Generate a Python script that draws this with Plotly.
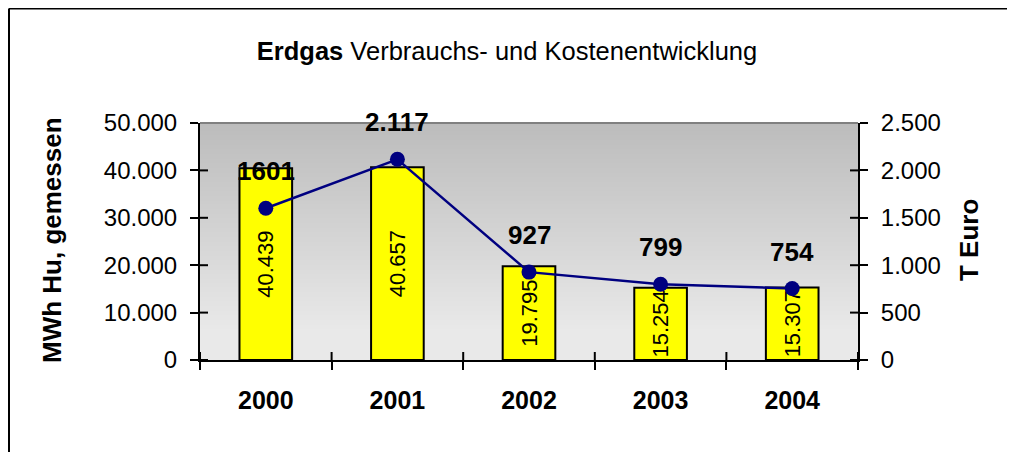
import base64, struct, zlib
import plotly.graph_objects as go

years = ["2000", "2001", "2002", "2003", "2004"]
consumption_mwh = [40439, 40657, 19795, 15254, 15307]
cost_teuro = [1601, 2117, 927, 799, 754]
cost_labels = ["1601", "2.117", "927", "799", "754"]
y1_ticks = [0, 10000, 20000, 30000, 40000, 50000]
y2_ticks = [0, 500, 1000, 1500, 2000, 2500]

# --- gradient background as a tiny grayscale PNG ---
def _chunk(tag, data):
    return struct.pack(">I", len(data)) + tag + data + struct.pack(">I", zlib.crc32(tag + data) & 0xffffffff)

def gradient_png(h=240, top=188, bottom=233, flat_from=0.88):
    col = []
    for i in range(h):
        t = min(1.0, (i / (h - 1)) / flat_from)
        col.append(int(round(top + (bottom - top) * t)))
    raw = b"".join(b"\x00" + bytes([v]) for v in col)
    png = (b"\x89PNG\r\n\x1a\n" + _chunk(b"IHDR", struct.pack(">IIBBBBB", 1, h, 8, 0, 0, 0, 0))
           + _chunk(b"IDAT", zlib.compress(raw)) + _chunk(b"IEND", b""))
    return "data:image/png;base64," + base64.b64encode(png).decode()

FONT = "Liberation Sans, Arial, sans-serif"
# figure-pixel geometry (page has an 8px body offset)
L, R, T, B = 192, 850, 115, 352
W, H = 1007, 444
PW, PH = R - L, B - T

fig = go.Figure()
fig.add_trace(go.Bar(
    x=years, y=consumption_mwh, width=0.4,
    marker=dict(color="#ffff00", line=dict(color="black", width=2)),
    texttemplate="%{y:,.0f}", textposition="inside", insidetextanchor="middle",
    textangle=-90, constraintext="none",
    textfont=dict(family=FONT, size=22, color="black"),
    hoverinfo="skip", showlegend=False,
))
fig.add_trace(go.Scatter(
    x=years, y=cost_teuro, yaxis="y2", mode="lines+markers",
    line=dict(color="#000080", width=2.5),
    marker=dict(color="#000080", size=15),
    hoverinfo="skip", showlegend=False,
))

for i, (v, lab) in enumerate(zip(cost_teuro, cost_labels)):
    fig.add_annotation(x=i, xref="x", y=v, yref="y2", text="<b>%s</b>" % lab, showarrow=False,
                       xanchor="center", yanchor="middle",
                       yshift=37, font=dict(family=FONT, size=26, color="black"))

shapes = []
# inward halves of tick marks
for t in y1_ticks:
    shapes.append(dict(type="line", xref="paper", yref="y", x0=0, x1=8 / PW, y0=t, y1=t,
                       line=dict(color="black", width=2)))
for t in y2_ticks:
    shapes.append(dict(type="line", xref="paper", yref="y2", x0=1 - 8 / PW, x1=1, y0=t, y1=t,
                       line=dict(color="black", width=2)))
for i in range(len(years) + 1):
    shapes.append(dict(type="line", xref="x", yref="paper", x0=i - 0.5, x1=i - 0.5, y0=0, y1=8 / PH,
                       line=dict(color="black", width=2)))
# gray top border of plot area
shapes.append(dict(type="line", xref="paper", yref="paper", x0=0, x1=1, y0=1, y1=1,
                   line=dict(color="#808080", width=2)))
# outer chart border: top and left edges only (others run off the window)
top_y = (B - 0.5) / PH
left_x = (1 - L) / PW
shapes.append(dict(type="line", xref="paper", yref="paper", x0=left_x, x1=(W + 20 - L) / PW,
                   y0=top_y, y1=top_y, line=dict(color="black", width=2)))
shapes.append(dict(type="line", xref="paper", yref="paper", x0=left_x, x1=left_x,
                   y0=top_y, y1=(B - H - 20) / PH, line=dict(color="black", width=2)))

fig.update_layout(
    width=W, height=H,
    margin=dict(l=L, r=W - R, t=T, b=H - B),
    paper_bgcolor="white", plot_bgcolor="rgba(0,0,0,0)",
    separators=",.",
    font=dict(family=FONT, color="black"),
    title=dict(text="<b>Erdgas</b> Verbrauchs- und Kostenentwicklung",
               x=499 / W, xanchor="center", y=1 - 43 / H, yanchor="middle",
               font=dict(family=FONT, size=25.5, color="black")),
    xaxis=dict(type="category", tickson="boundaries", ticks="outside", ticklen=8,
               tickwidth=2, tickcolor="black", showline=True, linecolor="black", linewidth=2,
               showgrid=False, tickfont=dict(family=FONT, size=25, color="black", weight="bold"),
               ticklabelstandoff=17, range=[-0.5, 4.5]),
    yaxis=dict(range=[0, 50000], tickvals=y1_ticks, tickformat=",.0f", ticks="outside",
               ticklen=8, tickwidth=2, tickcolor="black", showline=True, linecolor="black",
               linewidth=2, showgrid=False, zeroline=False,
               tickfont=dict(family=FONT, size=24, color="black"), ticklabelstandoff=8),
    yaxis2=dict(range=[0, 2500], tickvals=y2_ticks, tickformat=",.0f", overlaying="y",
                side="right", ticks="outside", ticklen=8, tickwidth=2, tickcolor="black",
                showline=True, linecolor="black", linewidth=2, showgrid=False, zeroline=False,
                tickfont=dict(family=FONT, size=24, color="black"), ticklabelstandoff=8),
    images=[dict(source=gradient_png(), xref="paper", yref="paper", x=0, y=1, sizex=1, sizey=1,
                 xanchor="left", yanchor="top", sizing="stretch", layer="below")],
    shapes=shapes,
    bargap=0.6,
)
fig.add_annotation(x=(44 - L) / PW, y=(B - 232) / PH, xref="paper", yref="paper",
                   xanchor="center", yanchor="middle",
                   text="<b>MWh Hu, gemessen</b>", textangle=-90, showarrow=False,
                   font=dict(family=FONT, size=26, color="black"))
fig.add_annotation(x=(961 - L) / PW, y=(B - 232) / PH, xref="paper", yref="paper",
                   xanchor="center", yanchor="middle",
                   text="<b>T Euro</b>", textangle=-90, showarrow=False,
                   font=dict(family=FONT, size=26, color="black"))

fig.write_html("out.html", config={"displayModeBar": False})
